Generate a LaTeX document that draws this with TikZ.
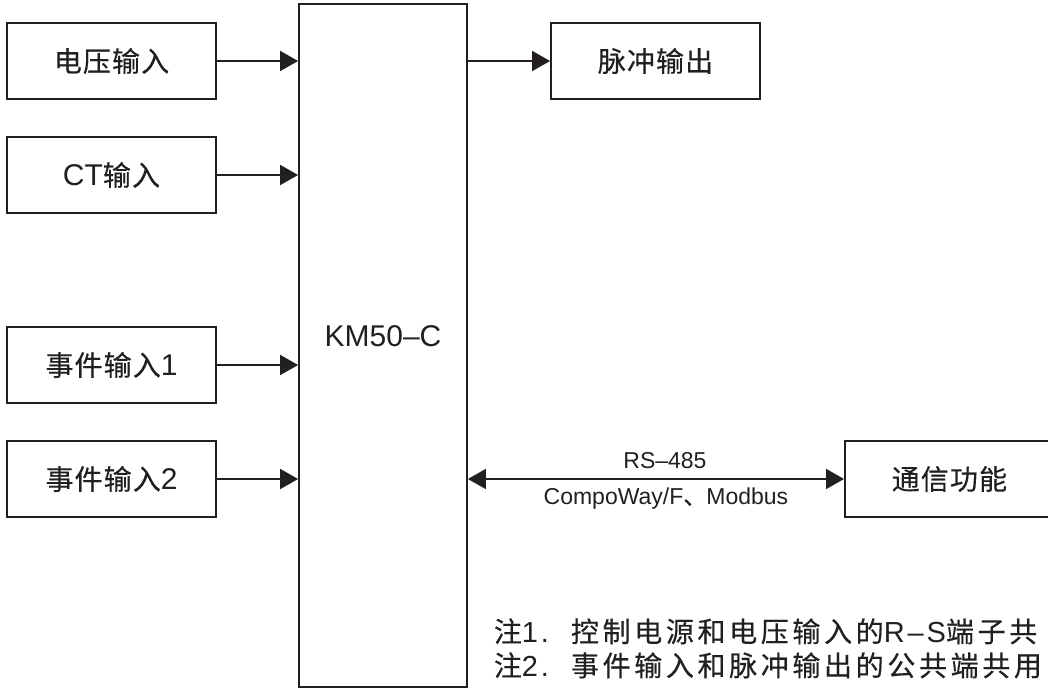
\documentclass[tikz,border=0pt]{standalone}
\usepackage{fontspec}
\setmainfont{Liberation Sans}
\newfontfamily\cjk[LetterSpace=4, FakeBold=0.4]{Noto Sans CJK SC}
\newfontfamily\cjknote[LetterSpace=13, FakeBold=0.4]{Noto Sans CJK SC}
\newfontfamily\latnote[LetterSpace=10]{Liberation Sans}
\newcommand\zh[1]{{\fontsize{28}{32}\selectfont\cjk #1}}
\newcommand\zn[1]{{\fontsize{28}{32}\selectfont\cjknote #1}}
\usetikzlibrary{arrows.meta}
\definecolor{ink}{HTML}{231F20}

\begin{document}
\begin{tikzpicture}[x=1pt, y=-1pt, line width=1.8pt, color=ink,
        box/.style = {shape=rectangle, draw, minimum width=209pt, minimum height=76pt, inner sep=0pt, font=\fontsize{30}{36}\selectfont},
        tip/.style = {-{Triangle[length=18pt, width=20pt]}},
        bitip/.style = {{Triangle[length=18pt, width=20pt]}-{Triangle[length=18pt, width=20pt]}},
        note/.style = {anchor=base west, inner sep=0pt, font=\fontsize{29}{32}\selectfont\latnote}]
    \useasboundingbox (0,0) rectangle (1048,689);
    \node[box] (volt) at (111.5,61) {\zh{电压输入}};
    \node[box] (ct) at (111.5,175) {CT\zh{输入}};
    \node[box] (ev1) at (111.5,365) {\zh{事件输入}1};
    \node[box] (ev2) at (111.5,479) {\zh{事件输入}2};
    \node[box, minimum width=168pt, minimum height=683pt, text depth=19pt] (km) at (383,345.5) {KM50--C};
    \node[box] (pulse) at (655.5,61) {\zh{脉冲输出}};
    \node[box, anchor=west] (comm) at (844,479) {\zh{通信功能}};

    \draw[tip] (volt) -- (volt -| km.west);
    \draw[tip] (ct) -- (ct -| km.west);
    \draw[tip] (ev1) -- (ev1 -| km.west);
    \draw[tip] (ev2) -- (ev2 -| km.west);
    \draw[tip] (km.east |- pulse) -- (pulse);
    \draw[bitip] (km.east |- comm.west) -- (comm.west)
        node[midway, above=9pt, xshift=9pt, inner sep=0pt, font=\fontsize{23}{27}\selectfont] (rs) {RS--485}
        node[midway, below=8pt, xshift=10pt, inner sep=0pt, font=\fontsize{23}{27}\selectfont] (proto) {CompoWay/F{\cjk 、}Modbus};

    \node[note] (note1) at (493,642) {\zn{注}1.\hspace{22pt}\zn{控制电源和电压输入的}R–S\zn{端子共}};
    \node[note] (note2) at (493,676) {\zn{注}2.\hspace{22pt}\zn{事件输入和脉冲输出的公共端共用}};
\end{tikzpicture}
\end{document}
